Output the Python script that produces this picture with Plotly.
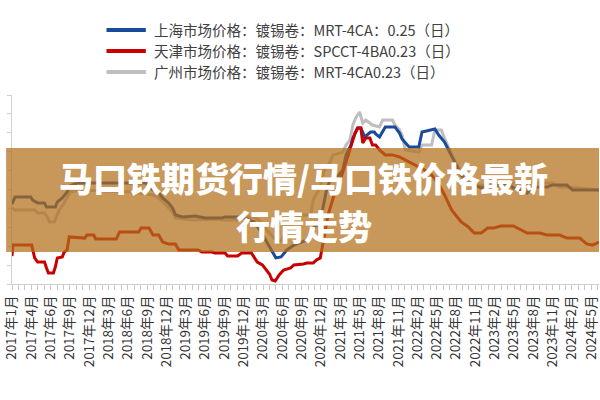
import plotly.graph_objects as go

# period index along the category axis (one minor tick = one period)
tick_labels = ["2017年1月", "2017年4月", "2017年6月", "2017年9月", "2017年12月",
               "2018年3月", "2018年6月", "2018年9月", "2018年12月", "2019年3月",
               "2019年6月", "2019年9月", "2019年12月", "2020年3月", "2020年6月",
               "2020年9月", "2020年12月", "2021年3月", "2021年5月", "2021年8月",
               "2021年11月", "2022年2月", "2022年5月", "2022年8月", "2022年11月",
               "2023年2月", "2023年5月", "2023年8月", "2023年11月", "2024年2月",
               "2024年5月"]

sh_x = [0, 0.46, 2.91, 3.21, 3.98, 5.05, 5.36, 6.73, 7.04, 7.81, 8.57, 9.03, 10.1, 20.8,
        21.9, 22.8, 23.4, 24.3, 24.95, 25.4, 26.5, 28.5, 30.0, 32.6, 33.1, 35.7, 36.1,
        37.65, 38.7, 39.6, 40.4, 41.0, 41.8, 42.7, 43.8, 44.85, 45.8, 46.8, 47.9, 48.4,
        48.8, 49.4, 50.4, 51.4, 51.9, 52.65, 52.96, 53.7, 54.2, 54.8, 55.3, 55.7, 56.3,
        56.5, 57.1, 58.0, 59.5, 60.2, 60.6, 61.7, 63.2, 63.7, 65.7, 66.3, 67.2, 67.8,
        68.7, 69.8, 70.9, 71.8, 72.9, 73.9, 75.9, 77.0, 77.9, 79.4, 80.05, 81.0, 83.1,
        84.0, 86.2, 87.1, 91.2]
sh_y = [9230, 9600, 9600, 9440, 9290, 9290, 9070, 9070, 9340, 9550, 9870, 10190, 10340, 10340,
        9970, 9810, 9550, 9290, 9020, 8650, 8550, 8600, 8490, 8490, 8550, 8550, 8490,
        8280, 7750, 7220, 6690, 6380, 6430, 6800, 7060, 7220, 7330, 7960, 8280, 9180,
        9870, 10500, 10610, 11030, 11830, 12350, 12720, 13250, 13250, 12780, 12940, 13040, 13040,
        12940, 12780, 13310, 13310, 12990, 12670, 12250, 12250, 13040, 13200, 12880, 12510, 12090,
        11450, 10770, 10240, 10240, 10080, 10240, 10240, 10340, 10080, 9970, 9810, 10130, 10130,
        10240, 10240, 9970, 9970]

tj_x = [0, 0.15, 3.06, 3.52, 3.98, 5.05, 5.36, 5.66, 6.43, 6.73, 7.04, 7.81, 8.11, 8.57,
        8.88, 11.33, 11.63, 12.7, 13.0, 16.2, 16.7, 19.7, 20.05, 21.3, 21.9, 22.8, 23.4,
        24.3, 25.4, 25.9, 28.9, 29.5, 31.1, 31.5, 33.1, 33.5, 35.05, 35.7, 37.2, 37.65,
        38.1, 38.9, 39.5, 40.0, 40.4, 40.9, 41.5, 42.2, 43.3, 43.8, 45.3, 45.8, 46.8,
        47.3, 47.9, 48.4, 49.1, 49.9, 51.0, 51.9, 52.65, 53.3, 53.7, 54.2, 54.5, 54.95,
        55.6, 56.0, 56.5, 57.1, 58.0, 59.1, 60.2, 61.1, 62.6, 64.1, 65.2, 66.3, 67.2,
        68.3, 69.3, 69.8, 70.9, 71.8, 72.9, 73.9, 74.85, 75.9, 77.9, 79.0, 80.05, 82.0,
        83.1, 85.1, 86.2, 88.2, 89.3, 90.2, 91.2]
tj_y = [6480, 7060, 7060, 6380, 6160, 6160, 5850, 5580, 5580, 5900, 6380, 6430, 6690, 6800,
        7490, 7430, 7590, 7590, 7380, 7380, 7750, 7750, 7960, 7960, 7590, 7590, 7220,
        7120, 7120, 6800, 6800, 6690, 6690, 6640, 6640, 6480, 6480, 6640, 6640, 6430,
        6160, 6010, 5740, 5530, 5210, 5160, 5480, 5740, 5850, 6010, 6060, 6110, 6110,
        6270, 6380, 7330, 8650, 9550, 10500, 11450, 12300, 12990, 13250, 13250, 12460, 12720,
        12720, 12350, 12350, 12090, 11830, 11830, 11720, 11560, 11300, 11030, 10770, 10290, 9710,
        8920, 8490, 8280, 8020, 7700, 7700, 7960, 7960, 8070, 8070, 7860, 7700, 7700,
        7590, 7590, 7430, 7430, 7120, 7060, 7220]

gz_x = [0, 0.46, 3.52, 3.98, 5.05, 5.51, 5.82, 6.58, 6.89, 7.35, 8.11, 8.57, 9.03, 10.56,
        18.8, 21.9, 22.8, 23.9, 24.95, 25.4, 28.0, 32.0, 32.6, 35.05, 36.1, 37.65, 38.7,
        39.6, 40.7, 41.8, 42.7, 43.8, 44.85, 46.4, 46.8, 47.9, 48.4, 49.4, 49.9, 51.4,
        51.9, 52.5, 52.96, 53.4, 54.0, 54.5, 54.95, 55.6, 56.0, 57.1, 57.6, 59.1, 59.5,
        60.2, 60.6, 61.1, 63.2, 63.7, 65.2, 65.7, 66.7, 67.2, 67.8, 68.7, 69.8, 70.9,
        71.8, 73.9, 75.9, 80.05, 84.0, 85.1, 88.2, 91.2]
gz_y = [9020, 8920, 8920, 8760, 8760, 8550, 8280, 8280, 8550, 8920, 9290, 9550, 9870, 9970,
        9870, 9710, 9550, 9180, 8810, 8490, 8390, 8440, 8390, 8390, 8550, 8550, 8280,
        7860, 7430, 7280, 7750, 8390, 8650, 8650, 9440, 10130, 10930, 11450, 11830, 11980,
        12350, 12620, 13410, 13780, 14100, 13520, 13680, 13520, 13410, 13310, 13680, 13680, 13410,
        13150, 12880, 12090, 11980, 12350, 12350, 13150, 13150, 12720, 12250, 11560, 10930, 10400,
        10240, 10240, 10340, 10340, 10340, 10130, 10080, 9970]

names = ["上海市场价格：镀锡卷：MRT-4CA：0.25（日）",
         "天津市场价格：镀锡卷：SPCCT-4BA0.23（日）",
         "广州市场价格：镀锡卷：MRT-4CA0.23（日）"]
colors = ["#1A4A9C", "#C80000", "#BEBEBE"]

title_lines = ["马口铁期货行情/马口铁价格最新", "行情走势"]

fig = go.Figure()
fig.add_trace(go.Scatter(x=gz_x, y=gz_y, mode="lines", name=names[2],
                         line=dict(color=colors[2], width=3)))
fig.add_trace(go.Scatter(x=sh_x, y=sh_y, mode="lines", name=names[0],
                         line=dict(color=colors[0], width=3)))
fig.add_trace(go.Scatter(x=tj_x, y=tj_y, mode="lines", name=names[1],
                         line=dict(color=colors[1], width=3)))

n_periods = 92
tickvals = list(range(n_periods))
ticktext = [tick_labels[i // 3] if (i % 3 == 0 and i // 3 < len(tick_labels)) else ""
            for i in tickvals]

fig.update_layout(
    width=600, height=400,
    margin=dict(l=4, r=0, t=95, b=116),
    paper_bgcolor="white", plot_bgcolor="white",
    font=dict(family="Noto Sans CJK SC", color="#333333"),
    showlegend=False,
    xaxis=dict(range=[0, 91.2], tickmode="array", tickvals=tickvals, ticktext=ticktext,
               tickangle=-90, ticks="outside", ticklen=5, tickcolor="#C8C8C8",
               showline=True, linecolor="#D0D0D0", linewidth=1, showgrid=False,
               zeroline=False, tickfont=dict(size=13.5, color="#333333"),
               ticklabeloverflow="allow"),
    yaxis=dict(range=[5000, 15000], dtick=1000, tick0=5000, ticks="outside", ticklen=4,
               tickcolor="#D0D0D0", showline=True, linecolor="#D0D0D0", showgrid=False,
               zeroline=False, showticklabels=False),
)

# legend drawn as key lines + labels (legend order: Shanghai, Tianjin, Guangzhou)
legend_rows_y = [1.344, 1.233, 1.122]
for name, color, ry in zip(names, colors, legend_rows_y):
    fig.add_shape(type="line", xref="paper", yref="paper", x0=0.161, x1=0.228,
                  y0=ry, y1=ry, line=dict(color=color, width=4))
    fig.add_annotation(text=name, xref="paper", yref="paper", x=0.238, y=ry,
                       xanchor="left", yanchor="middle", showarrow=False,
                       font=dict(size=14.5, color="#404040", family="Noto Sans CJK SC"))

fig.add_shape(type="rect", xref="paper", yref="paper", x0=-0.01, x1=1.0,
              y0=0.1693, y1=0.7196, fillcolor="rgba(179,111,26,0.72)",
              line=dict(width=0), layer="above")

for txt, ty in zip(title_lines, [0.566, 0.307]):
    fig.add_annotation(text=txt, xref="paper", yref="paper", x=0.497, y=ty,
                       showarrow=False, xanchor="center", yanchor="middle",
                       font=dict(size=34, color="white", family="Noto Sans CJK SC",
                                 weight=900))

fig.write_html("out.html")
